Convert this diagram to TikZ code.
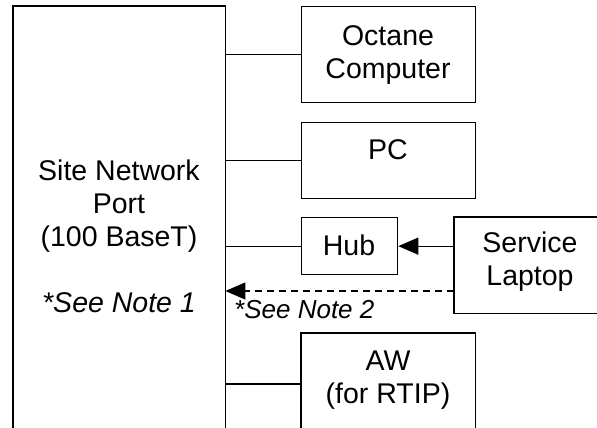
\documentclass[tikz,border=0pt]{standalone}
\usepackage{fontspec}
\setmainfont{Liberation Sans}
\usetikzlibrary{arrows.meta}
\begin{document}
\begin{tikzpicture}[x=1pt,y=-1pt,
  box/.style={rectangle,draw=black,line width=1.3pt,inner sep=0pt,anchor=north west},
  openbox/.style={rectangle,draw=none,inner sep=0pt,anchor=north west},
  lbl/.style={anchor=base,align=center,inner sep=0pt,font=\fontsize{28.5}{33}\selectfont},
  wire/.style={line width=1.3pt},
  tip/.style={-{Triangle[length=20pt,width=17pt]}}
]
\useasboundingbox (0,0) rectangle (597,428);
% open-bottom port box
\node[openbox,minimum width=212pt,minimum height=440pt] (port) at (13,6) {};
\draw[wire] (port.south west) -- (port.north west) -- (port.north east) -- (port.south east);
\node[lbl] (porttxt) at (119,312) {Site Network\\Port\\(100 BaseT)\\[33pt]\textit{*See Note 1}};
% right column
\node[box,minimum width=174pt,minimum height=96pt] (octane) at (301,6) {};
\node[lbl] (octanetxt) at (388,78) {Octane\\Computer};
\node[box,minimum width=174pt,minimum height=76pt] (pc) at (301,122) {};
\node[lbl] (pctxt) at (388,159) {PC};
\node[box,minimum width=96pt,minimum height=57pt] (hub) at (301,217) {};
\node[lbl] (hubtxt) at (349,255) {Hub};
\node[openbox,minimum width=200pt,minimum height=96pt] (laptop) at (454,217) {};
\draw[wire] (laptop.north east) -- (laptop.north west) -- (laptop.south west) -- (laptop.south east);
\node[lbl] (laptoptxt) at (530,285) {Service\\Laptop};
\node[openbox,minimum width=174pt,minimum height=120pt] (aw) at (301,333) {};
\draw[wire] (aw.south west) -- (aw.north west) -- (aw.north east) -- (aw.south east);
\node[lbl] (awtxt) at (388,403) {AW\\(for RTIP)};
% connectors
\coordinate (awlink) at (301,384);
\coordinate (dashy) at (454,291);
\draw[wire] (port.east |- octane.west) -- (octane.west);
\draw[wire] (port.east |- pc.west) -- (pc.west);
\draw[wire] (port.east |- hub.west) -- (hub.west);
\draw[wire] (port.east |- awlink) -- (awlink);
\draw[wire,tip] (laptop.west |- hub.east) -- (hub.east);
\draw[wire,tip,dash pattern=on 7pt off 5pt] (dashy) -- (port.east |- dashy);
\node[anchor=base west,inner sep=0pt,font=\fontsize{26}{30}\selectfont\itshape] (note2) at (234,318) {*See Note 2};
\end{tikzpicture}
\end{document}
